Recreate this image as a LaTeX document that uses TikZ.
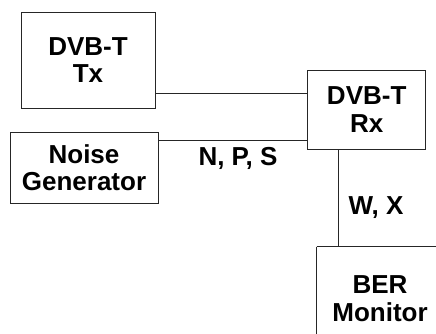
\documentclass[tikz,border=0pt]{standalone}
\usepackage{fontspec}
\setmainfont{Liberation Sans}
\begin{document}
\begin{tikzpicture}[x=1pt,y=-1pt,
  box/.style={draw=black!85, line width=0.8pt, rectangle, inner sep=0pt, align=center,
    font=\fontsize{26}{27.5}\selectfont\bfseries},
  lbl/.style={inner sep=0pt, font=\fontsize{26}{27.5}\selectfont\bfseries},
  wire/.style={draw=black!85, line width=0.8pt}]
\useasboundingbox (0,0) rectangle (436,334);
\clip (0,0) rectangle (436,334);
\node[box, minimum width=134pt, minimum height=96pt] (tx) at (88,60) {DVB-T\\Tx};
\node[box, minimum width=118pt, minimum height=79pt] (rx) at (366.7,109.5) {DVB-T\\Rx};
\node[box, minimum width=148pt, minimum height=71pt] (noise) at (84,167.5) {Noise\\Generator};
\node[box, draw=none, minimum width=126pt, minimum height=103pt] (ber) at (380,298.5) {BER\\Monitor};
\draw[wire] (ber.north west) -- ++(0,120) (ber.north west) -- ++(160,0);
\coordinate (a) at ([yshift=15pt]tx.south east);
\draw[wire] (a) -- (a -| rx.west);
\coordinate (b) at ([yshift=-9pt]noise.north east);
\draw[wire] (b) -- (b -| rx.west);
\coordinate (c) at ([xshift=31pt]rx.south west);
\draw[wire] (c) -- (c |- ber.north);
\node[lbl] (nps) at (238,158) {N, P, S};
\node[lbl] (wx) at (376,208) {W, X};
\end{tikzpicture}
\end{document}
